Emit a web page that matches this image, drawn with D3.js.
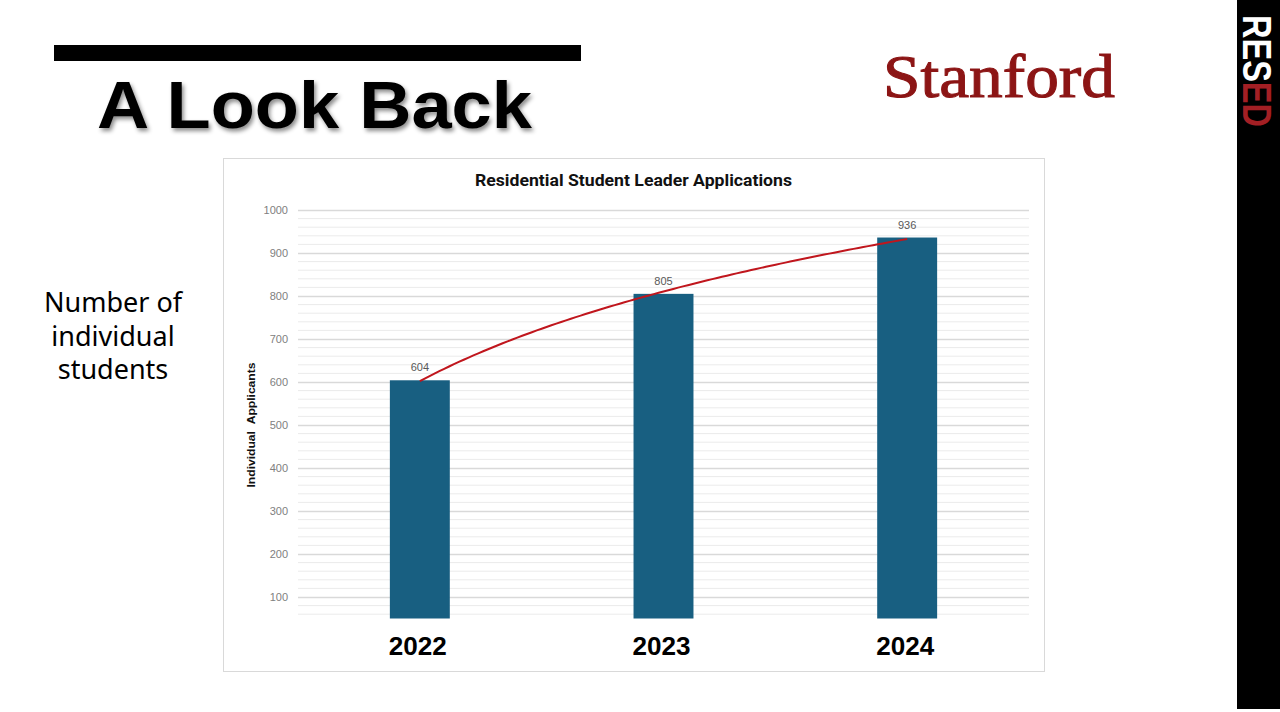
<!DOCTYPE html>
<html><head><meta charset="utf-8">
<script src="https://cdn.jsdelivr.net/npm/d3@7"></script>
<style>html,body{margin:0;padding:0;background:#fff;overflow:hidden}</style>
</head><body>
<script>
const years = ["2022", "2023", "2024"];
const applicants = [604, 805, 936];
const yTicks = [100, 200, 300, 400, 500, 600, 700, 800, 900, 1000];
const yMinorTicks = d3.range(60, 1000, 20).filter(v => v % 100 !== 0);
const chartTitle = "Residential Student Leader Applications";
const yTitle = "Individual\u00a0\u00a0Applicants";

const W = 1280, H = 712;
const svg = d3.select("body").append("svg").attr("width", W).attr("height", H);

// slide decoration
svg.append("rect").attr("x", 54).attr("y", 45).attr("width", 527).attr("height", 16).attr("fill", "#000");
const defs = svg.append("defs");
const f = defs.append("filter").attr("id", "sh").attr("x", "-5%").attr("y", "-5%").attr("width", "115%").attr("height", "130%");
f.append("feDropShadow").attr("dx", 2).attr("dy", 3).attr("stdDeviation", 2).attr("flood-color", "#000").attr("flood-opacity", 0.45);
svg.append("text").attr("x", 97).attr("y", 128).attr("font-family", "Liberation Sans, Arial, sans-serif")
  .attr("font-weight", "bold").attr("font-size", 66).attr("textLength", 435).attr("lengthAdjust", "spacingAndGlyphs")
  .attr("filter", "url(#sh)").attr("fill", "#000").text("A Look Back");

svg.append("text").attr("x", 883).attr("y", 97).attr("font-family", "Liberation Serif, Times New Roman, serif")
  .attr("font-size", 62).attr("fill", "#8c1515").attr("stroke", "#8c1515").attr("stroke-width", 1.1)
  .attr("textLength", 232).attr("lengthAdjust", "spacingAndGlyphs").text("Stanford");

const side = svg.append("g").attr("font-family", "Noto Sans, sans-serif").attr("font-size", 27).attr("text-anchor", "middle").attr("fill", "#000");
["Number of", "individual", "students"].forEach((t, i) => side.append("text").attr("x", 113).attr("y", 312 + i * 33.5).text(t));

svg.append("rect").attr("x", 1237).attr("y", 0).attr("width", 43).attr("height", 709).attr("fill", "#000");
const rs = svg.append("text").attr("transform", "translate(1243,15) rotate(90)")
  .attr("font-family", "Liberation Sans Narrow, Liberation Sans, Arial, sans-serif").attr("font-weight", "bold").attr("font-size", 40)
  .attr("textLength", 112).attr("lengthAdjust", "spacingAndGlyphs");
rs.append("tspan").attr("fill", "#fff").text("RES");
rs.append("tspan").attr("fill", "#a31f24").text("ED");

// chart frame
svg.append("rect").attr("x", 223.5).attr("y", 158.5).attr("width", 821).attr("height", 513).attr("fill", "#fff").attr("stroke", "#d9d9d9");

const x = d3.scaleBand().domain(years).range([298, 1029]).paddingInner(0.754).paddingOuter(0.377);
const y = d3.scaleLinear().domain([50, 1000]).range([618.5, 210]);

const g = svg.append("g");
g.selectAll(".minor").data(yMinorTicks).join("line")
  .attr("x1", 298).attr("x2", 1029).attr("y1", d => y(d)).attr("y2", d => y(d))
  .attr("stroke", "#ebebeb").attr("stroke-width", 1);
const yAxis = d3.axisLeft(y).tickValues(yTicks).tickFormat(d3.format("d")).tickSize(-(1029 - 298)).tickPadding(10);
const ya = g.append("g").attr("transform", "translate(298,0)").call(yAxis);
ya.select(".domain").remove();
ya.selectAll(".tick line").attr("stroke", "#d9d9d9").attr("stroke-width", 1.5);
ya.selectAll(".tick text").attr("font-family", "Liberation Sans, Arial, sans-serif").attr("font-size", 11).attr("fill", "#808080");

g.selectAll(".bar").data(applicants).join("rect")
  .attr("x", (d, i) => x(years[i])).attr("width", x.bandwidth())
  .attr("y", d => y(d)).attr("height", d => y(50) - y(d)).attr("fill", "#185f81");

g.selectAll(".val").data(applicants).join("text")
  .attr("x", (d, i) => x(years[i]) + x.bandwidth() / 2).attr("y", d => y(d) - 9)
  .attr("text-anchor", "middle").attr("font-family", "Liberation Sans, Arial, sans-serif").attr("font-size", 11).attr("fill", "#595959")
  .text(d => d);

// logarithmic trendline fitted to the data (y = a + b ln(x))
const lx = applicants.map((d, i) => Math.log(i + 1));
const mx = d3.mean(lx), my = d3.mean(applicants);
const b = d3.sum(lx.map((v, i) => (v - mx) * (applicants[i] - my))) / d3.sum(lx.map(v => (v - mx) ** 2));
const a = my - b * mx;
const step = x.step();
const c0 = x(years[0]) + x.bandwidth() / 2;
const pts = d3.range(0, 2.0001, 0.02).map(t => [c0 + t * step, y(a + b * Math.log(t + 1))]);
g.append("path").attr("d", d3.line()(pts)).attr("fill", "none").attr("stroke", "#c0161d").attr("stroke-width", 2);

g.selectAll(".xl").data(years).join("text")
  .attr("x", d => x(d) + x.bandwidth() / 2 - 2).attr("y", 655).attr("text-anchor", "middle")
  .attr("font-family", "Liberation Sans, Arial, sans-serif").attr("font-weight", "bold").attr("font-size", 26)
  .attr("textLength", 58).attr("lengthAdjust", "spacingAndGlyphs").attr("fill", "#000")
  .text(d => d);

svg.append("text").attr("x", 633.5).attr("y", 186).attr("text-anchor", "middle")
  .attr("font-family", "Roboto, Noto Sans, sans-serif").attr("font-weight", "bold").attr("font-size", 16.5).attr("fill", "#111")
  .attr("textLength", 317).attr("lengthAdjust", "spacingAndGlyphs")
  .text(chartTitle);

svg.append("text").attr("transform", "translate(255,425) rotate(-90)").attr("text-anchor", "middle")
  .attr("font-family", "Liberation Sans, Arial, sans-serif").attr("font-weight", "bold").attr("font-size", 11.5).attr("fill", "#111")
  .attr("textLength", 125).attr("lengthAdjust", "spacingAndGlyphs")
  .text(yTitle);
</script>
</body></html>
